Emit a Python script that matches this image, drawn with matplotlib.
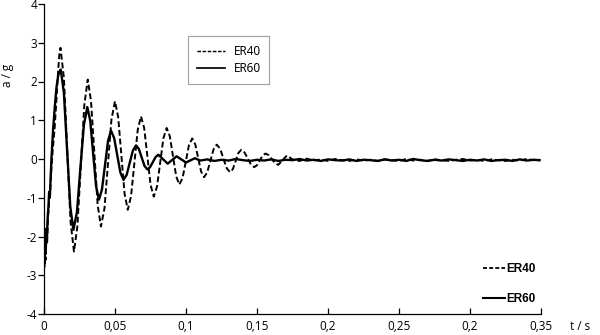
import matplotlib
matplotlib.use("Agg")
import matplotlib.pyplot as plt
from matplotlib.lines import Line2D

# ---------------- data ----------------
er40_t = [0.0000, 0.0004, 0.0008, 0.0012, 0.0017, 0.0022, 0.0028, 0.0033, 0.0037, 0.0042,
          0.0047, 0.0052, 0.0063, 0.0075, 0.0087, 0.0099, 0.0108, 0.0116,
          0.0140, 0.01635, 0.0187, 0.0211,
          0.0235, 0.02595, 0.0284, 0.0308,
          0.0331, 0.03545, 0.0378, 0.0401,
          0.0426, 0.04505, 0.0475, 0.0500,
          0.05225, 0.0545, 0.05675, 0.0590,
          0.0613, 0.06365, 0.0660, 0.0683,
          0.07055, 0.0728, 0.07505, 0.0773,
          0.0796, 0.08185, 0.0841, 0.0864,
          0.0886, 0.09085, 0.0931, 0.0953,
          0.0976, 0.09985, 0.1021, 0.1044,
          0.1065, 0.10855, 0.1106, 0.1127,
          0.1149, 0.11715, 0.1194, 0.1216,
          0.1240, 0.1263, 0.1287, 0.1310,
          0.1330, 0.1350, 0.1370, 0.1390,
          0.1412, 0.1435, 0.1457, 0.1480,
          0.1500, 0.1520, 0.1540, 0.1560,
          0.1582, 0.1605, 0.1627, 0.1650,
          0.1680, 0.1710,
          0.175, 0.180, 0.185, 0.190, 0.195, 0.200, 0.205, 0.210, 0.215, 0.220,
          0.225, 0.230, 0.235, 0.240, 0.245, 0.250, 0.255, 0.260, 0.265, 0.270,
          0.275, 0.280, 0.285, 0.290, 0.295, 0.300, 0.305, 0.310, 0.315, 0.320,
          0.325, 0.330, 0.335, 0.340, 0.345, 0.349]
er40_a = [-2.10, -2.78, -2.20, -2.60, -1.90, -2.20, -1.50, -1.30, -1.00, -0.95,
          -0.60, -0.25, 0.30, 0.80, 1.50, 2.25, 2.70, 2.87,
          2.10, 0.24, -1.62, -2.39,
          -1.74, -0.17, 1.40, 2.05,
          1.50, 0.155, -1.19, -1.74,
          -1.27, -0.125, 1.02, 1.49,
          1.08, 0.09, -0.90, -1.31,
          -0.96, -0.105, 0.75, 1.10,
          0.80, 0.065, -0.67, -0.97,
          -0.71, -0.085, 0.54, 0.80,
          0.59, 0.07, -0.45, -0.66,
          -0.49, -0.065, 0.36, 0.53,
          0.38, 0.03, -0.32, -0.47,
          -0.35, -0.05, 0.25, 0.37,
          0.27, 0.015, -0.24, -0.34,
          -0.26, -0.05, 0.16, 0.24,
          0.17, 0.015, -0.14, -0.21,
          -0.16, -0.035, 0.09, 0.14,
          0.10, -0.005, -0.11, -0.15,
          -0.03, 0.09,
          -0.01, -0.05, 0.01, -0.04, -0.01, -0.05, 0.00, -0.03, -0.05, -0.01,
          -0.04, -0.02, -0.05, -0.01, -0.03, -0.05, 0.00, -0.04, -0.02, -0.05,
          -0.01, -0.03, -0.05, -0.02, 0.00, -0.04, -0.02, -0.05, -0.01, -0.03,
          -0.05, -0.02, -0.04, 0.00, -0.03, -0.04]

er60_t = [0.0000, 0.0004, 0.0008, 0.0012, 0.0016, 0.0021, 0.0026, 0.0031, 0.0036, 0.0041,
          0.0046, 0.0053, 0.0064, 0.0076, 0.0088, 0.0100, 0.0108, 0.0118,
          0.0140, 0.01625, 0.0185, 0.0207,
          0.0232, 0.0256, 0.0281, 0.0305,
          0.03255, 0.0346, 0.03665, 0.0387,
          0.0408, 0.04295, 0.0451, 0.0472,
          0.0494, 0.0516, 0.0538, 0.0560,
          0.0582, 0.0604, 0.0626, 0.0648,
          0.0668, 0.0688, 0.0708, 0.0728,
          0.0747, 0.07665, 0.0786, 0.0805,
          0.0838, 0.0871, 0.09025, 0.0934, 0.0967, 0.1000, 0.1063,
          0.110, 0.115, 0.120, 0.125, 0.130, 0.135, 0.140, 0.145, 0.150, 0.155,
          0.160, 0.165, 0.170, 0.175, 0.180, 0.185, 0.190, 0.195, 0.200, 0.205,
          0.210, 0.215, 0.220, 0.225, 0.230, 0.235, 0.240, 0.245, 0.250, 0.255,
          0.260, 0.265, 0.270, 0.275, 0.280, 0.285, 0.290, 0.295, 0.300, 0.305,
          0.310, 0.315, 0.320, 0.325, 0.330, 0.335, 0.340, 0.345, 0.349]
er60_a = [-2.30, -2.60, -2.10, -2.45, -1.80, -2.00, -1.50, -1.25, -0.85, -1.00,
          -0.55, 0.05, 0.75, 1.35, 1.85, 2.15, 2.25, 2.31,
          1.71, 0.24, -1.23, -1.83,
          -1.37, -0.245, 0.88, 1.34,
          0.99, 0.145, -0.70, -1.05,
          -0.79, -0.16, 0.47, 0.73,
          0.54, 0.095, -0.35, -0.54,
          -0.41, -0.095, 0.22, 0.35,
          0.26, 0.04, -0.18, -0.27,
          -0.21, -0.08, 0.05, 0.11,
          -0.005, -0.12, -0.025, 0.07, -0.01, -0.09, 0.02,
          -0.04, -0.01, -0.05, -0.02, -0.04, 0.00, -0.03, -0.05, -0.02, -0.04,
          -0.01, -0.05, -0.02, -0.03, 0.00, -0.04, -0.02, -0.05, -0.01, -0.03,
          -0.04, -0.01, -0.05, -0.02, -0.03, -0.05, -0.01, -0.04, -0.02, -0.05,
          0.00, -0.03, -0.05, -0.02, -0.04, -0.01, -0.03, -0.05, -0.02, -0.04,
          -0.01, -0.05, -0.03, -0.02, -0.05, -0.01, -0.04, -0.02, -0.03]

x_ticks = [0, 0.05, 0.10, 0.15, 0.20, 0.25, 0.30, 0.35]
x_ticklabels = ["0", "0,05", "0,1", "0,15", "0,2", "0,25", "0,2", "0,35"]
y_ticks = [4, 3, 2, 1, 0, -1, -2, -3, -4]
y_ticklabels = ["4", "3", "2", "1", "0", "-1", "-2", "-3", "-4"]
series_names = ["ER40", "ER60"]

# ---------------- figure ----------------
plt.rcParams['font.family'] = ['Open Sans', 'DejaVu Sans']
fig = plt.figure(figsize=(6.0, 3.35), dpi=100)
ax = fig.add_axes([44/600, 21/335, 497/600, 310/335])

ax.plot(er40_t, er40_a, color='black', lw=1.4, linestyle=(0, (3, 1.5)))
ax.plot(er60_t, er60_a, color='black', lw=1.7, linestyle='-')

ax.set_xlim(0, 0.35)
ax.set_ylim(-4, 4)
ax.set_xticks(x_ticks)
ax.set_xticklabels(x_ticklabels, fontsize=8.5)
ax.set_yticks(y_ticks)
ax.set_yticklabels(y_ticklabels, fontsize=8.5)
ax.spines['top'].set_visible(False)
ax.spines['right'].set_visible(False)
for s in ['left', 'bottom']:
    ax.spines[s].set_linewidth(0.9)
ax.tick_params(axis='y', direction='out', length=4, width=0.9, pad=1)
ax.tick_params(axis='x', direction='in', length=4, width=0.9, pad=4)

fig.text(8/600, 1 - 75/335, "a / g", rotation=90, ha='center', va='center', fontsize=8.5)
fig.text(580/600, 1 - 327/335, "t / s", ha='center', va='center', fontsize=8.5)

# legend 1 (framed)
h1 = [Line2D([], [], color='black', lw=1.0, linestyle=(0, (2.5, 1.2))),
      Line2D([], [], color='black', lw=1.2, linestyle='-')]
leg1 = fig.legend(h1, series_names, loc='upper left',
                  bbox_to_anchor=(188/600, 1 - 36/335), fontsize=8.5,
                  frameon=True, fancybox=False, edgecolor='#999999',
                  handlelength=2.4, borderpad=0.75, labelspacing=0.35,
                  handletextpad=0.7, borderaxespad=0)
leg1.get_frame().set_linewidth(0.8)

# legend 2 (no frame, bold)
h2 = [Line2D([], [], color='black', lw=1.3, linestyle=(0, (2.2, 1.2))),
      Line2D([], [], color='black', lw=1.5, linestyle='-')]
leg2 = ax.legend(h2, series_names, loc='upper left',
                 bbox_to_anchor=(478/600, 1 - 258/335), bbox_transform=fig.transFigure,
                 frameon=False, handlelength=1.9, handletextpad=0.1, borderaxespad=0,
                 labelspacing=1.55, prop={'family': 'Liberation Sans', 'weight': 'bold', 'size': 8.5})
fig.add_artist(leg1)

fig.savefig("out.png", dpi=100)
